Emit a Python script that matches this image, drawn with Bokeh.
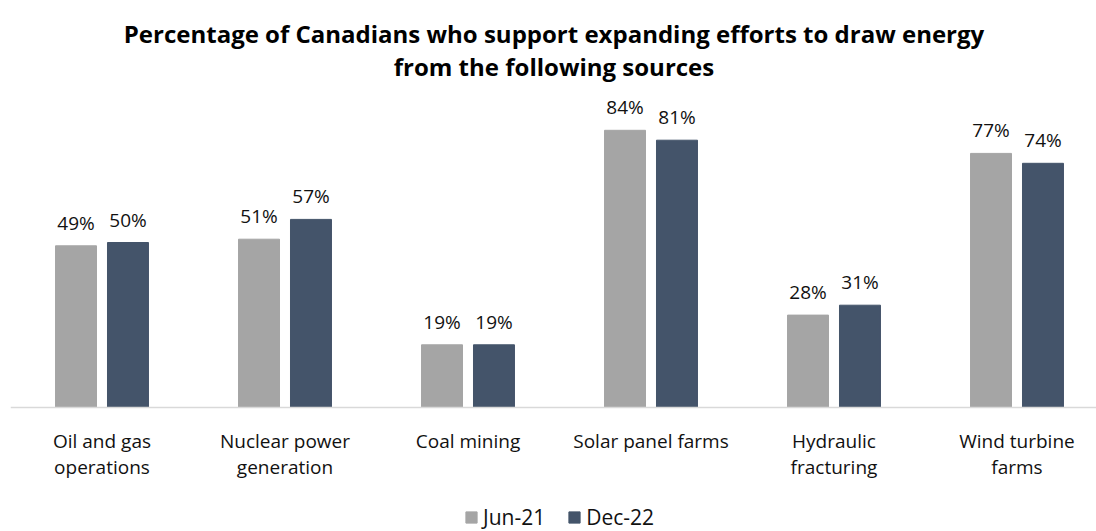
from bokeh.plotting import figure
from bokeh.models import Range1d, FixedTicker, Legend, LegendItem, ColumnDataSource, Label
from bokeh.transform import dodge
from bokeh.embed import file_html
from bokeh.resources import INLINE
from bokeh.core.properties import value

title_lines = ["Percentage of Canadians who support expanding efforts to draw energy",
               "from the following sources"]
categories = ["Oil and gas\noperations", "Nuclear power\ngeneration", "Coal mining",
              "Solar panel farms", "Hydraulic\nfracturing", "Wind turbine\nfarms"]
jun21 = [49, 51, 19, 84, 28, 77]
dec22 = [50, 57, 19, 81, 31, 74]
series = ["Jun-21", "Dec-22"]
colors = ["#A5A5A5", "#44546A"]

FONT = "Open Sans"
TXT = "#111111"
pos = [i + 0.5 for i in range(len(categories))]
src = ColumnDataSource(dict(
    x=pos, jun=jun21, dec=dec22,
    jun_lbl=[f"{v}%" for v in jun21], dec_lbl=[f"{v}%" for v in dec22],
))

W, H = 1096, 531
frame_bottom = 407          # pixel row of the zero baseline
px_per_unit = 3.30
y_top = frame_bottom / px_per_unit
y_bot = -(H - frame_bottom) / px_per_unit
x_end = (W - 10) / 183

p = figure(width=W, height=H, output_backend="svg", toolbar_location=None,
           x_range=Range1d(0, x_end), y_range=Range1d(y_bot, y_top),
           min_border_left=10, min_border_right=0, min_border_top=0, min_border_bottom=0)

# two centred title lines (baselines at pixel rows 33 and 66)
x_mid = (543.5) / 183
for line, row in zip(title_lines, (33, 66)):
    p.add_layout(Label(x=x_mid, y=(frame_bottom - row) / px_per_unit, text=line,
                       text_align="center", text_baseline="alphabetic",
                       text_font=FONT, text_font_size="24px", text_font_style="bold",
                       text_color="#000000"))

off = 0.142
w = 0.224
r1 = p.vbar(x=dodge("x", -off), top="jun", width=w, source=src, color=colors[0])
r2 = p.vbar(x=dodge("x", off), top="dec", width=w, source=src, color=colors[1])

for xo, col in ((-off, "jun"), (off, "dec")):
    p.text(x=dodge("x", xo), y=col, text=col + "_lbl", source=src,
           text_align="center", text_baseline="alphabetic", y_offset=-23,
           text_font=value(FONT), text_font_size="19px", text_color=TXT)

p.xgrid.visible = False
p.ygrid.visible = False
p.yaxis.visible = False
p.outline_line_color = None
ax = p.xaxis[0]
ax.fixed_location = 0
ax.ticker = FixedTicker(ticks=pos)
ax.major_label_overrides = {x: c for x, c in zip(pos, categories)}
ax.major_tick_line_color = None
ax.minor_tick_line_color = None
ax.major_tick_out = 0
ax.major_tick_in = 0
ax.axis_line_color = "#D9D9D9"
ax.axis_line_width = 1.5
ax.major_label_text_font = FONT
ax.major_label_text_font_size = "19px"
ax.major_label_text_line_height = 1.0
ax.major_label_text_color = TXT
ax.major_label_standoff = 20

legend = Legend(items=[LegendItem(label=series[0], renderers=[r1]),
                       LegendItem(label=series[1], renderers=[r2])],
                location=(454, 0), orientation="horizontal",
                padding=0, margin=0, spacing=22, border_line_color=None,
                background_fill_alpha=0, glyph_width=14, glyph_height=14,
                label_standoff=5, label_text_font=FONT, label_text_font_size="21px",
                label_text_color=TXT)
p.add_layout(legend, "center")

open("out.html", "w").write(file_html(p, INLINE))
